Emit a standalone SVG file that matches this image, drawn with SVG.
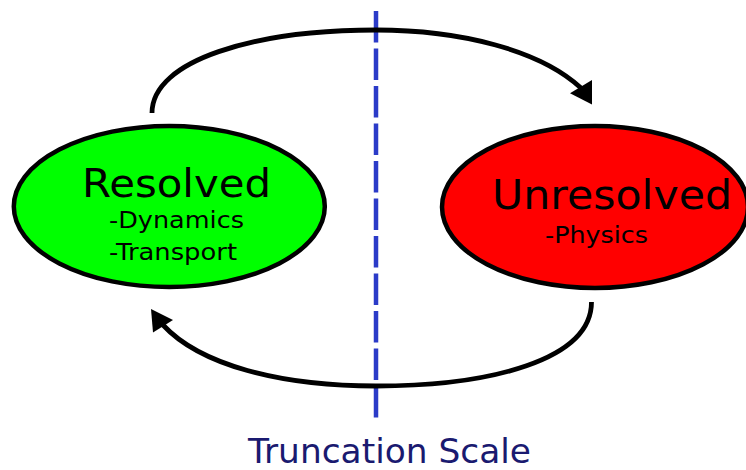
<svg xmlns="http://www.w3.org/2000/svg" width="746" height="470" viewBox="0 0 746 470">
<style>
.node { stroke: #000; stroke-width: 4.5; }
.t { font-family: "DejaVu Sans", Verdana, sans-serif; fill: #000; }
.conn { fill: none; stroke: #000; stroke-width: 4.8; }
.head { fill: #000; stroke: none; }
.scale { fill: none; stroke: #2b3bc8; stroke-width: 4.5; stroke-dasharray: 31.5 6; }
</style>
<rect width="746" height="470" fill="#fff"/>
<g id="truncation-line">
<line class="scale" x1="376" y1="11" x2="376" y2="418"/>
</g>
<g id="connectors">
<path class="conn" d="M152,113 C152,60 255,30 376,30 C460,30 540,50 581,88"/>
<polygon class="head" points="570,93.3 592,80 592,104.5"/>
<path class="conn" d="M591.5,302 C591.5,360 490,386 376,386 C280,386 200,365 163,325"/>
<polygon class="head" points="151,309 173,320 153,332.5"/>
</g>
<g id="resolved">
<ellipse class="node" cx="169.3" cy="206.5" rx="155.5" ry="80.5" fill="#00ff00"/>
<text class="t" x="82" y="197" font-size="38.5" textLength="189" lengthAdjust="spacingAndGlyphs">Resolved</text>
<text class="t" x="109" y="227.5" font-size="22.5" textLength="135" lengthAdjust="spacingAndGlyphs">-Dynamics</text>
<text class="t" x="109" y="259.5" font-size="22.5" textLength="128" lengthAdjust="spacingAndGlyphs">-Transport</text>
</g>
<g id="unresolved">
<ellipse class="node" cx="595" cy="207" rx="153" ry="81" fill="#ff0000"/>
<text class="t" x="492" y="208.5" font-size="41" textLength="240" lengthAdjust="spacingAndGlyphs">Unresolved</text>
<text class="t" x="545" y="242.5" font-size="23" textLength="103" lengthAdjust="spacingAndGlyphs">-Physics</text>
</g>
<g id="truncation-label">
<text class="t" x="248" y="463" font-size="33" style="fill:#1a1a70" textLength="283" lengthAdjust="spacingAndGlyphs">Truncation Scale</text>
</g>
</svg>
